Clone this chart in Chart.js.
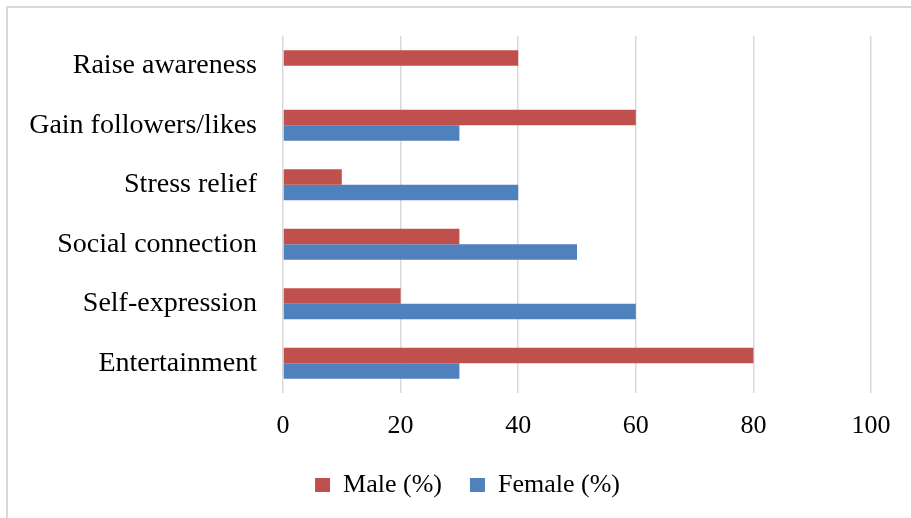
<!DOCTYPE html>
<html>
<head>
<meta charset="utf-8">
<script src="https://cdn.jsdelivr.net/npm/chart.js@4"></script>
<style>
  html, body { margin: 0; padding: 0; background: #fff; overflow: hidden; }
  #wrap { position: relative; width: 911px; height: 518px; }
  #frame { position: absolute; left: 6px; top: 6px; width: 1000px; height: 1000px;
           border-left: 2px solid #D9D9D9; border-top: 2px solid #D9D9D9; box-sizing: border-box; }
  canvas { position: absolute; left: 0; top: 0; }
</style>
</head>
<body>
<div id="wrap">
  <div id="frame"></div>
  <canvas id="chart" width="911" height="518"></canvas>
</div>
<script>
// Reasons for posting, by gender (percent of respondents)
const categories = [
  'Raise awareness',
  'Gain followers/likes',
  'Stress relief',
  'Social connection',
  'Self-expression',
  'Entertainment'
];
const maleValues = [40, 60, 10, 30, 20, 80];
const femaleValues = [0, 30, 40, 50, 60, 30];
const seriesNames = ['Male (%)', 'Female (%)'];
const xTicks = [0, 20, 40, 60, 80, 100];

const serif = "'Liberation Serif', 'Times New Roman', serif";
const gridColor = '#D9D9D9';

// Nudge the bottom legend to the right so it sits under the plot rather than the page centre
const legendOffset = {
  id: 'legendOffset',
  afterLayout(chart) {
    const lg = chart.legend;
    if (lg) { lg.left += 32; lg.right += 32; }
  }
};

new Chart(document.getElementById('chart'), {
  type: 'bar',
  data: {
    labels: categories,
    datasets: [
      { label: seriesNames[0], data: maleValues, backgroundColor: '#C0504D' },
      { label: seriesNames[1], data: femaleValues, backgroundColor: '#4F81BD' }
    ]
  },
  plugins: [legendOffset],
  options: {
    indexAxis: 'y',
    responsive: false,
    animation: false,
    devicePixelRatio: 1,
    categoryPercentage: 0.525,
    barPercentage: 1.0,
    layout: { padding: { top: 36, right: 40, left: 0, bottom: 10 } },
    scales: {
      x: {
        min: 0,
        max: 100,
        afterBuildTicks: (scale) => { scale.ticks = xTicks.map(v => ({ value: v })); },
        afterFit: (scale) => { scale.height = 51; },
        grid: { color: gridColor, lineWidth: 1.5, drawTicks: false },
        border: { display: false },
        ticks: {
          padding: 18,
          color: '#000',
          font: { family: serif, size: 26 }
        }
      },
      y: {
        afterFit: (scale) => {
          scale.width = 283;
          scale.paddingTop = 0;
          scale.paddingBottom = 0;
        },
        grid: { display: false, drawTicks: false },
        border: { display: false },
        ticks: {
          padding: 26,
          color: '#000',
          font: { family: serif, size: 28 }
        }
      }
    },
    plugins: {
      tooltip: { enabled: false },
      legend: {
        position: 'bottom',
        labels: {
          boxWidth: 15,
          boxHeight: 14,
          padding: 28,
          color: '#000',
          font: { family: serif, size: 26 }
        }
      }
    }
  }
});
</script>
</body>
</html>
